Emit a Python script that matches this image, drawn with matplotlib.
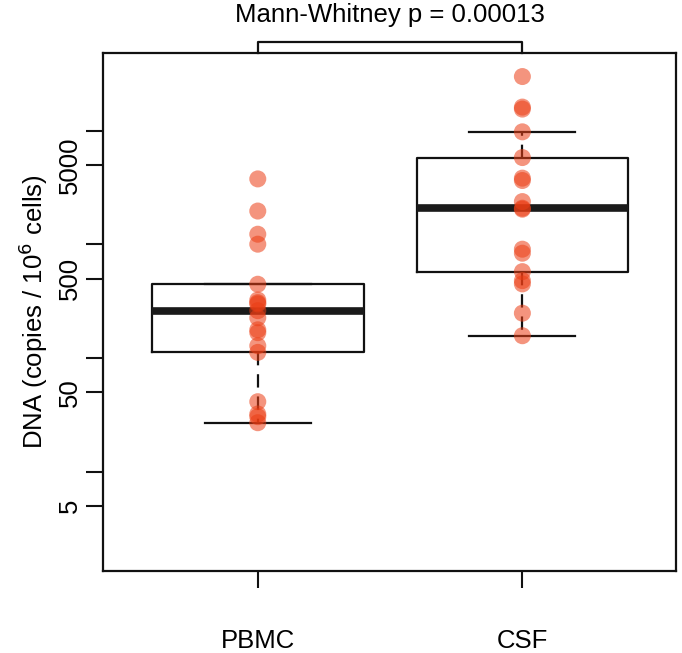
import matplotlib
matplotlib.use("Agg")
import matplotlib.pyplot as plt
import matplotlib.transforms as mtransforms

plt.rcParams['font.family'] = ['Liberation Sans', 'DejaVu Sans']

# 그룹 이름
groups = ["PBMC", "CSF"]

# 점 데이터 (copies / 10^6 cells)
pbmc_vals = [3776, 1968, 1230, 1005, 446, 324, 307, 299, 261, 226, 177, 167,
             128, 112, 41.2, 32.1, 30.4, 26.9]
csf_vals = [30100, 16200, 15560, 9808, 5821, 3836, 3655, 2384, 2085, 2043,
            908, 837, 576, 480, 449, 248, 157]

# 박스 통계
pbmc_box = {"whislo": 26.9, "q1": 112, "med": 261, "q3": 446, "whishi": 446}
csf_box = {"whislo": 157, "q1": 576, "med": 2085, "q3": 5821, "whishi": 9808}

y_ticks = [5, 10, 50, 100, 500, 1000, 5000, 10000]
y_labels = ["5", "", "50", "", "500", "", "5000", ""]
title_text = "Mann-Whitney p = 0.00013"

fs = 18.5

fig = plt.figure(figsize=(6.82, 6.53), dpi=100)
ax = fig.add_axes([0.151, 0.1256, 0.84, 0.7932])

stats = []
for name, b in zip(groups, [pbmc_box, csf_box]):
    s = dict(b)
    s["label"] = name
    s["fliers"] = []
    stats.append(s)

ax.bxp(stats, positions=[1, 2], widths=0.8, showfliers=False,
       boxprops=dict(color="#111111", linewidth=1.6),
       medianprops=dict(color="#1a1a1a", linewidth=5.5, solid_capstyle="butt"),
       whiskerprops=dict(color="#111111", linewidth=1.6, linestyle=(0, (6, 4))),
       capprops=dict(color="#111111", linewidth=1.6),
       capwidths=0.4, zorder=2)

for i, vals in enumerate([pbmc_vals, csf_vals]):
    ax.scatter([i + 1] * len(vals), vals, s=150, color=(0.92, 0.24, 0.08),
               alpha=0.55, edgecolors="none", zorder=3)

ax.set_yscale("log")
ax.set_ylim(1.33, 48500)
ax.set_xlim(0.415, 2.58)
ax.set_yticks(y_ticks)
ax.set_yticklabels(y_labels, rotation=90, va="center", fontsize=fs)
ax.minorticks_off()
ax.set_xticks([1, 2])
ax.set_xticklabels(groups, fontsize=fs)
ax.tick_params(axis="both", length=12, width=1.5, color="#111111")
ax.tick_params(axis="y", pad=3)
ax.tick_params(axis="x", pad=30)
for sp in ax.spines.values():
    sp.set_linewidth(1.6)
    sp.set_color("#111111")

ax.set_ylabel("DNA (copies / 10$^6$ cells)", fontsize=fs, labelpad=6)

# 괄호와 p값
trans = mtransforms.blended_transform_factory(ax.transData, ax.transAxes)
ax.plot([1, 1, 2, 2], [1.0, 1.0205, 1.0205, 1.0], transform=trans,
        color="#111111", linewidth=1.6, clip_on=False)
ax.text(1.5, 1.073, title_text, transform=trans, ha="center", va="center",
        fontsize=fs)

fig.savefig("out.png", dpi=100)
